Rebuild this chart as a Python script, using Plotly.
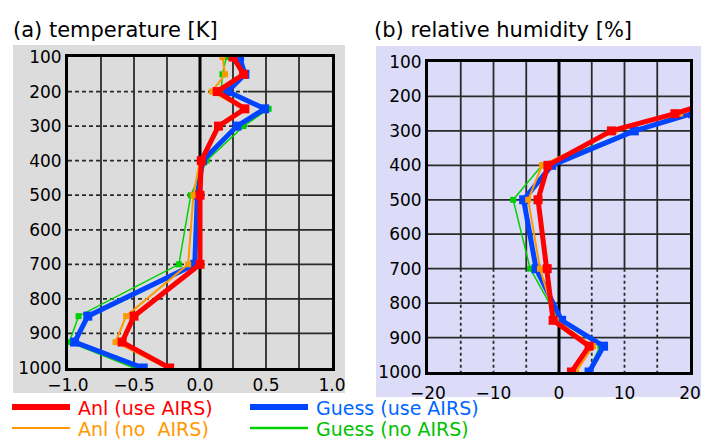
import plotly.graph_objects as go

# ---------------- data ----------------
levels = [100, 150, 200, 250, 300, 400, 500, 700, 850, 925, 1000]
rh_levels = [200, 250, 300, 400, 500, 700, 850, 925, 1000]

series_names = ["Anl (use AIRS)", "Anl (no\u00a0 AIRS)", "Guess (use AIRS)", "Guess (no AIRS)"]

t_anl_use = [0.25, 0.33, 0.13, 0.34, 0.14, 0.01, 0.0, 0.0, -0.50, -0.59, -0.23]
t_anl_no = [0.17, 0.19, 0.09, 0.33, 0.14, 0.0, -0.05, -0.09, -0.56, -0.64, -0.25]
t_gss_use = [0.30, 0.34, 0.21, 0.49, 0.28, 0.02, -0.02, -0.04, -0.85, -0.95, -0.43]
t_gss_no = [0.20, 0.17, 0.16, 0.52, 0.33, 0.05, -0.07, -0.16, -0.92, -0.99, -0.50]

rh_anl_use = [26.0, 17.7, 8.0, -1.7, -3.2, -1.8, -0.9, 4.6, 1.9]
rh_anl_no = [27.0, 18.5, 8.5, -2.6, -4.7, -2.9, -0.5, 5.2, 2.6]
rh_gss_use = [29.0, 20.4, 11.5, -1.1, -5.4, -3.5, 0.4, 6.8, 4.6]
rh_gss_no = [29.0, 20.6, 11.2, -2.6, -7.0, -4.4, 0.0, 6.3, 4.4]

t_xticks = [-1.0, -0.5, 0.0, 0.5, 1.0]
rh_xticks = [-20, -10, 0, 10, 20]
p_ticks = [100, 200, 300, 400, 500, 600, 700, 800, 900, 1000]
t_grid_x = [-0.75, -0.5, -0.25, 0.25, 0.5, 0.75]
rh_grid_x = [-15, -10, -5, 5, 10, 15]

# ---------------- styles ----------------
colors = ["#ff0000", "#ff9900", "#0044ff", "#00d000"]
text_colors = ["#ff0000", "#ff9900", "#0066ff", "#00c000"]
line_w = [5, 2, 5, 1.5]
mark_s = [9, 6, 9, 6]
draw_order = [3, 2, 1, 0]  # green, blue, orange, red (red on top)

W, H = 701, 441
def px(x):
    return x / W
def py(y):
    return 1 - y / H

fig = go.Figure()

t_data = [t_anl_use, t_anl_no, t_gss_use, t_gss_no]
rh_data = [rh_anl_use, rh_anl_no, rh_gss_use, rh_gss_no]

for i in draw_order:
    fig.add_trace(go.Scatter(
        x=t_data[i], y=levels, mode="lines+markers", name=series_names[i],
        line=dict(color=colors[i], width=line_w[i]),
        marker=dict(symbol="square", size=mark_s[i], color=colors[i]),
        xaxis="x", yaxis="y", showlegend=False, cliponaxis=True))
for i in draw_order:
    fig.add_trace(go.Scatter(
        x=rh_data[i], y=rh_levels, mode="lines+markers", name=series_names[i],
        line=dict(color=colors[i], width=line_w[i]),
        marker=dict(symbol="square", size=mark_s[i], color=colors[i]),
        xaxis="x2", yaxis="y2", showlegend=False, cliponaxis=True))

shapes = []
# panel backgrounds
shapes.append(dict(type="rect", xref="paper", yref="paper", x0=px(13), x1=px(345),
                   y0=py(393), y1=py(45), fillcolor="#dcdcdc", line=dict(width=0), layer="below"))
shapes.append(dict(type="rect", xref="paper", yref="paper", x0=px(376), x1=px(701),
                   y0=py(397), y1=py(46), fillcolor="#dcdcf8", line=dict(width=0), layer="below"))

gcol = "#2a2a2a"
# left panel grid
for gx in t_grid_x:
    shapes.append(dict(type="line", xref="x", yref="y", x0=gx, x1=gx, y0=100, y1=1000,
                       line=dict(color=gcol, width=1.8), layer="below"))
for gy in p_ticks[1:-1]:
    shapes.append(dict(type="line", xref="x", yref="y", x0=-1, x1=0.36, y0=gy, y1=gy,
                       line=dict(color=gcol, width=1.8, dash="4px,3px"), layer="below"))
    shapes.append(dict(type="line", xref="x", yref="y", x0=0.36, x1=1, y0=gy, y1=gy,
                       line=dict(color=gcol, width=1.8), layer="below"))
shapes.append(dict(type="line", xref="x", yref="y", x0=0, x1=0, y0=100, y1=1000,
                   line=dict(color="black", width=3), layer="below"))

# right panel grid
for gy in p_ticks[1:-1]:
    shapes.append(dict(type="line", xref="x2", yref="y2", x0=-20, x1=20, y0=gy, y1=gy,
                       line=dict(color=gcol, width=1.8), layer="below"))
for gx in rh_grid_x:
    shapes.append(dict(type="line", xref="x2", yref="y2", x0=gx, x1=gx, y0=100, y1=700,
                       line=dict(color=gcol, width=1.8), layer="below"))
    shapes.append(dict(type="line", xref="x2", yref="y2", x0=gx, x1=gx, y0=700, y1=1000,
                       line=dict(color=gcol, width=1.8, dash="3px,3px"), layer="below"))
shapes.append(dict(type="line", xref="x2", yref="y2", x0=0, x1=0, y0=100, y1=1000,
                   line=dict(color="black", width=3), layer="below"))

# legend samples
leg_rows = [407, 428, 407, 428]
leg_x0 = [12, 12, 250, 250]
leg_w = [6, 2, 6, 2.5]
annotations = []
for i in range(4):
    shapes.append(dict(type="line", xref="paper", yref="paper",
                       x0=px(leg_x0[i]), x1=px(leg_x0[i] + 58), y0=py(leg_rows[i]), y1=py(leg_rows[i]),
                       line=dict(color=colors[i], width=leg_w[i])))
    annotations.append(dict(xref="paper", yref="paper", x=px(leg_x0[i] + 64), y=py(leg_rows[i] + 1),
                            xanchor="left", yanchor="middle", showarrow=False,
                            text=series_names[i],
                            font=dict(family="DejaVu Sans", size=19, color=text_colors[i])))

titles = ["(a) temperature [K]", "(b) relative humidity [%]"]
title_x = [11, 372]
for t, tx in zip(titles, title_x):
    annotations.append(dict(xref="paper", yref="paper", x=px(tx), y=py(30),
                            xanchor="left", yanchor="middle", showarrow=False, text=t,
                            font=dict(family="DejaVu Sans", size=21, color="black")))

tick_font = dict(family="DejaVu Sans", size=17, color="black")
common_ax = dict(showgrid=False, zeroline=False, showline=True, mirror=True, automargin=False,
                 linecolor="black", linewidth=3, ticks="", tickfont=tick_font)

fig.update_layout(
    width=W, height=H, margin=dict(l=0, r=0, t=0, b=0, pad=0),
    paper_bgcolor="white", plot_bgcolor="white",
    showlegend=False,
    xaxis=dict(domain=[px(68), px(332)], range=[-1, 1], tickvals=t_xticks,
               tickformat=".1f", anchor="y", **common_ax),
    yaxis=dict(domain=[py(368), py(57)], range=[1000, 100], tickvals=p_ticks,
               anchor="x", **common_ax),
    xaxis2=dict(domain=[px(428), px(690)], range=[-20, 20], tickvals=rh_xticks,
                anchor="y2", ticklabelstandoff=4, **common_ax),
    yaxis2=dict(domain=[py(372), py(62)], range=[1000, 100], tickvals=p_ticks,
                anchor="x2", **common_ax),
    shapes=shapes, annotations=annotations,
)

fig.write_html("out.html", config={"displayModeBar": False},
               post_script="document.body.style.margin='0px';")
